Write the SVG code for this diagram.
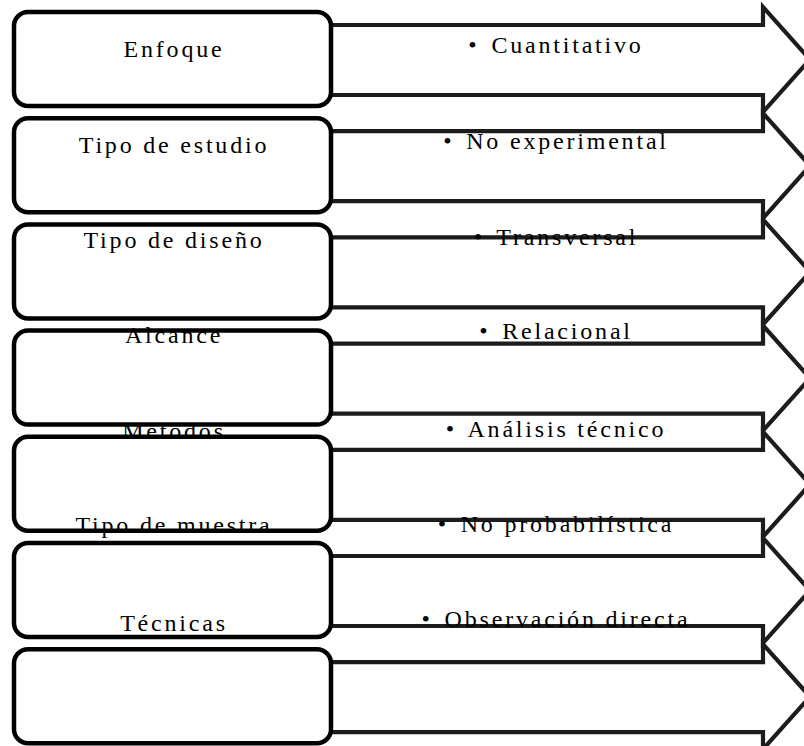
<svg xmlns="http://www.w3.org/2000/svg" width="804" height="746" viewBox="0 0 804 746">
<style>
.arrow{fill:#fff;stroke:#1c1c1c;stroke-width:4.2;stroke-linejoin:miter}
.box{fill:#fff;stroke:#000;stroke-width:4.5}
text{font-family:"Times New Roman",Times,"Liberation Serif",Tinos,"Noto Serif","DejaVu Serif",serif;font-size:24px;letter-spacing:2.8px;fill:#000;text-anchor:middle}
</style>
<defs>
<path id="arr" d="M300 25 H763 V7 L810 59.5 L763 112 V95 H300 Z"/>
<rect id="bx" x="14" y="12" width="317" height="94" rx="14" ry="14"/>
</defs>
<g id="arrows">
<g id="arrow1"><use href="#arr" class="arrow"/></g>
<g id="arrow2"><use href="#arr" class="arrow" y="106.2"/></g>
<g id="arrow3"><use href="#arr" class="arrow" y="212.4"/></g>
<g id="arrow4"><use href="#arr" class="arrow" y="318.6"/></g>
<g id="arrow5"><use href="#arr" class="arrow" y="424.8"/></g>
<g id="arrow6"><use href="#arr" class="arrow" y="531"/></g>
<g id="arrow7"><use href="#arr" class="arrow" y="637.2"/></g>
</g>
<g id="boxes">
<g id="box1"><use href="#bx" class="box"/></g>
<g id="box2"><use href="#bx" class="box" y="106.2"/></g>
<g id="box3"><use href="#bx" class="box" y="212.4"/></g>
<g id="box4"><use href="#bx" class="box" y="318.6"/></g>
<g id="box5"><use href="#bx" class="box" y="424.8"/></g>
<g id="box6"><use href="#bx" class="box" y="531"/></g>
<g id="box7"><use href="#bx" class="box" y="637.2"/></g>
</g>
<g id="labels-left">
<text x="174" y="57">Enfoque</text>
<text x="174" y="153">Tipo de estudio</text>
<text x="174" y="248">Tipo de diseño</text>
<text x="174" y="343">Alcance</text>
<text x="174" y="439">Métodos</text>
<text x="174" y="533">Tipo de muestra</text>
<text x="174" y="631">Técnicas</text>
</g>
<g id="labels-right">
<text x="556" y="53">• <tspan dx="3">Cuantitativo</tspan></text>
<text x="556" y="149">• <tspan dx="3">No experimental</tspan></text>
<text x="556" y="245">• <tspan dx="3">Transversal</tspan></text>
<text x="556" y="339">• <tspan dx="3">Relacional</tspan></text>
<text x="556" y="437">• <tspan dx="3">Análisis técnico</tspan></text>
<text x="556" y="532">• <tspan dx="3">No probabilística</tspan></text>
<text x="556" y="627">• <tspan dx="3">Observación directa</tspan></text>
</g>
</svg>
